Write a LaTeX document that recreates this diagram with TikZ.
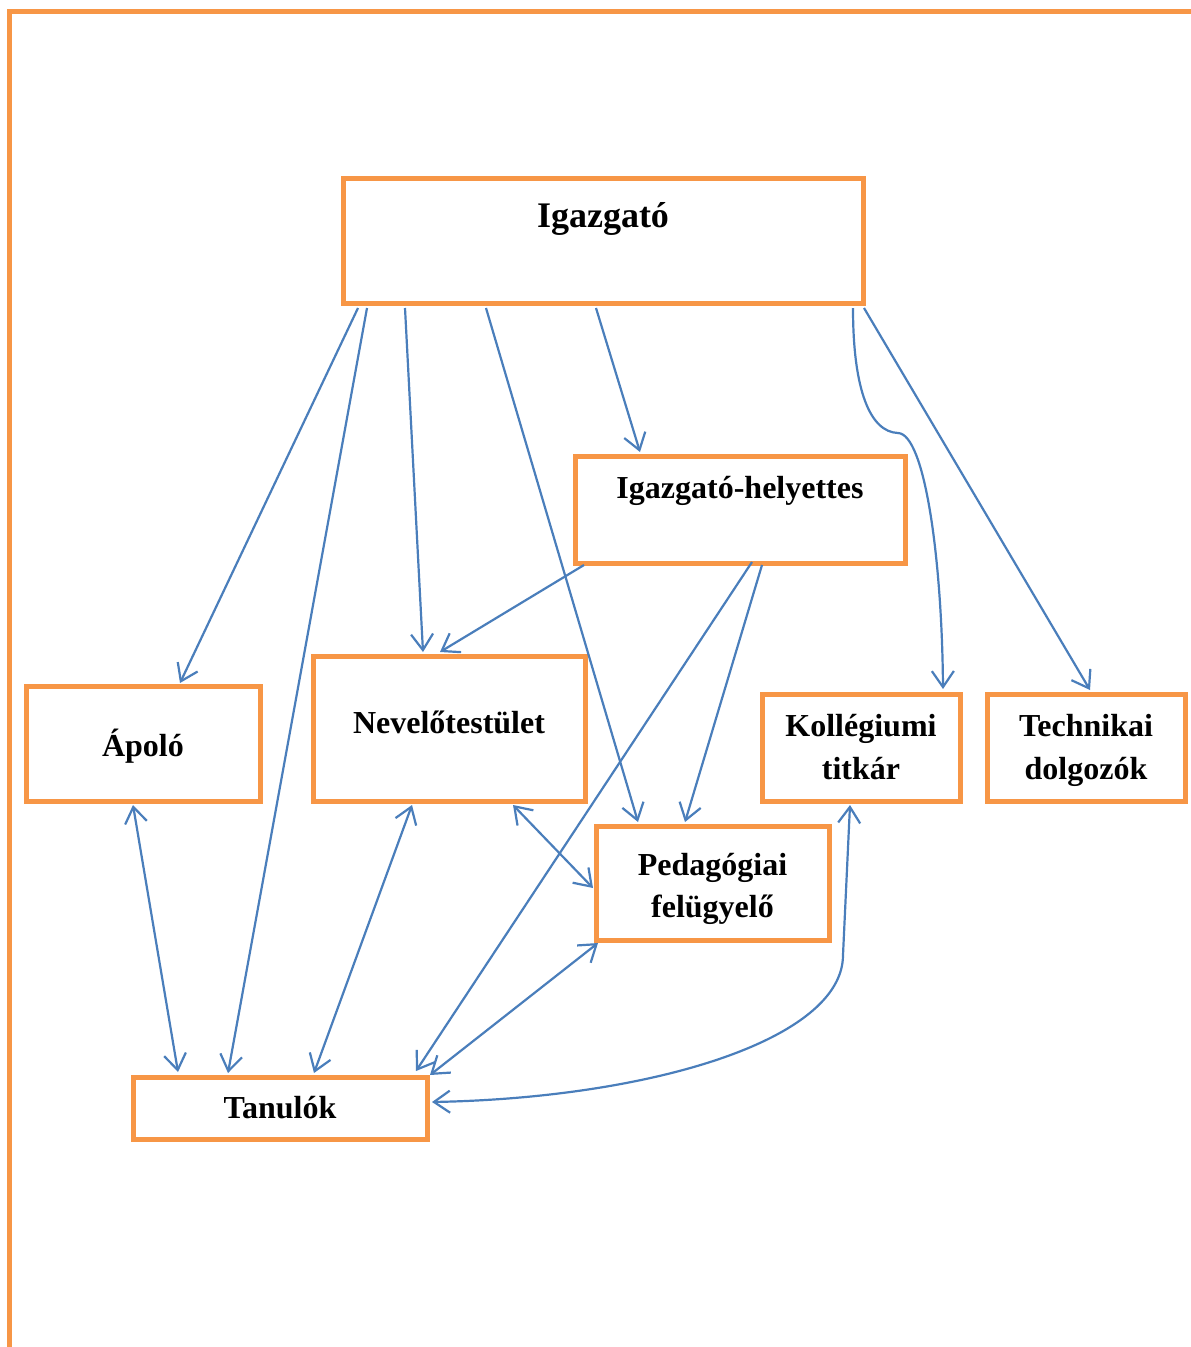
\documentclass[tikz,border=0pt]{standalone}
\usepackage{fontspec}
\setmainfont{Liberation Serif}
\usetikzlibrary{arrows.meta,calc}
\definecolor{frameorange}{HTML}{F79646}
\definecolor{linkblue}{HTML}{4A7EBB}
\begin{document}
\begin{tikzpicture}[x=1pt,y=-1pt,
  box/.style={draw=frameorange,line width=5pt,rectangle,inner sep=0pt,outer sep=0pt},
  lbl/.style={font=\bfseries\fontsize{32}{42}\selectfont,anchor=base,inner sep=0pt},
  barb/.tip={Straight Barb[length=16pt,width=22pt]},
  link/.style={draw=linkblue,line width=2.2pt,-barb},
  link2/.style={draw=linkblue,line width=2.2pt,barb-barb}]
\useasboundingbox (0,0) rectangle (1191,1347);
\draw[frameorange,line width=5pt] (9.3,1347) -- (9.3,11.7) -- (1191,11.7);

% boxes
\node[box,minimum width=520pt,minimum height=125pt] (ig) at (603,240.5) {};
\node[box,minimum width=330pt,minimum height=107pt] (ih) at (740,509.5) {};
\node[box,minimum width=234pt,minimum height=115pt] (ap) at (143,743.5) {};
\node[box,minimum width=272pt,minimum height=145pt] (nv) at (449,728.5) {};
\node[box,minimum width=198pt,minimum height=107pt] (kt) at (861,747.5) {};
\node[box,minimum width=198pt,minimum height=107pt] (td) at (1086,747.5) {};
\node[box,minimum width=233pt,minimum height=114pt] (pf) at (712.5,883) {};
\node[box,minimum width=294pt,minimum height=62pt] (tn) at (280,1108) {};

% texts
\node[lbl,font=\bfseries\fontsize{36}{40}\selectfont] (igt) at (603,227) {Igazgató};
\node[lbl] (iht) at (740,498) {Igazgató-helyettes};
\node[lbl] (apt) at (143,756) {Ápoló};
\node[lbl] (nvt) at (449,733) {Nevelőtestület};
\node[lbl] (ktt1) at (861,736) {Kollégiumi};
\node[lbl] (ktt2) at (861,779) {titkár};
\node[lbl] (tdt1) at (1086,736) {Technikai};
\node[lbl] (tdt2) at (1086,779) {dolgozók};
\node[lbl] (pft1) at (712.5,875) {Pedagógiai};
\node[lbl] (pft2) at (712.5,917) {felügyelő};
\node[lbl] (tnt) at (280,1118) {Tanulók};

% connectors from Igazgató
\draw[link] ($(ig.south west)+(15,5)$) -- ($(ap.north west)+(154,-3)$);
\draw[link] ($(ig.south west)+(24,5)$) -- ($(tn.north west)+(95,-4)$);
\draw[link] ($(ig.south west)+(62,5)$) -- ($(nv.north west)+(110,-4)$);
\draw[link] ($(ig.south west)+(143,5)$) -- ($(pf.north west)+(42,-4)$);
\draw[link] ($(ig.south west)+(253,5)$) -- ($(ih.north west)+(65,-4)$);
\draw[link] ($(ig.south east)+(-10,5)$) .. controls ($(ig.south east)+(-10,87)$) and ($(ig.south east)+(7,129)$) .. ($(ig.south east)+(35,130)$)
  .. controls ($(ig.south east)+(62,131)$) and ($(kt.north west)+(180,-134)$) .. ($(kt.north west)+(181,-5)$);
\draw[link] ($(ig.south east)+(1,5)$) -- ($(td.north west)+(103,-4)$);

% connectors from Igazgató-helyettes
\draw[link] ($(ih.south west)+(9,2)$) -- ($(nv.north west)+(127,-4)$);
\draw[link] ($(ih.south west)+(177,-1)$) -- ($(tn.north east)+(-11,-6)$);
\draw[link] ($(ih.south west)+(187,2)$) -- ($(pf.north west)+(89,-4)$);

% two-way connectors
\draw[link2] ($(ap.south west)+(107,4)$) -- ($(tn.north west)+(45,-5)$);
\draw[link2] ($(nv.south west)+(99,4)$) -- ($(tn.north west)+(181,-4)$);
\draw[link2] ($(nv.south west)+(200,4)$) -- ($(pf.north west)+(-3,62)$);
\draw[link2] ($(pf.south west)+(2,3)$) -- ($(tn.north east)+(3,-2)$);
\draw[link2] ($(kt.south west)+(88,4)$) -- ($(kt.south west)+(81,154)$)
  .. controls ($(kt.south west)+(81,239)$) and ($(tn.north east)+(223,21)$) .. ($(tn.north east)+(5,25)$);
\end{tikzpicture}
\end{document}
